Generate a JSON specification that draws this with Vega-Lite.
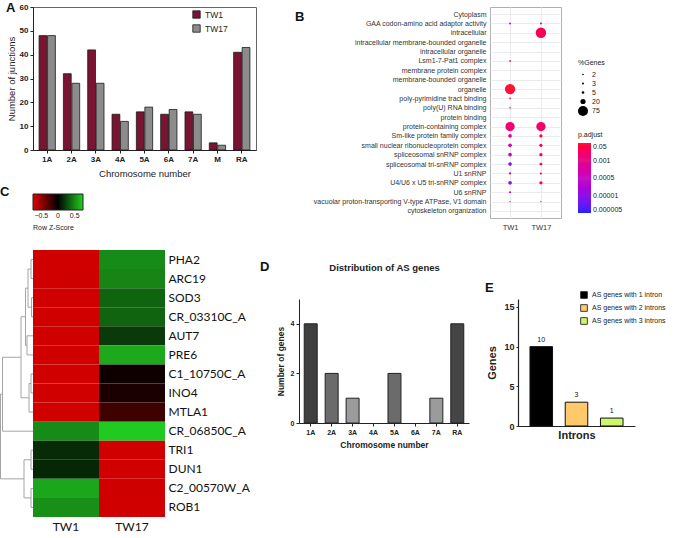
{
  "$schema": "https://vega.github.io/schema/vega-lite/v6.json",
  "padding": {"left": 0, "top": 1, "right": 2, "bottom": 0},
  "background": "white",
  "config": {
    "font": "Liberation Sans",
    "view": {"stroke": null},
    "axis": {"grid": false, "domainColor": "#222", "tickColor": "#222", "labelColor": "#222", "titleColor": "#222"},
    "title": {"fontSize": 13, "fontWeight": "bold", "anchor": "start", "frame": "bounds", "color": "#111"},
    "legend": {"labelColor": "#222", "titleColor": "#222"}
  },
  "datasets": {
    "junctions": [
      {"chromosome": "1A", "sample": "TW1", "junctions": 48}, {"chromosome": "1A", "sample": "TW17", "junctions": 48},
      {"chromosome": "2A", "sample": "TW1", "junctions": 32}, {"chromosome": "2A", "sample": "TW17", "junctions": 28},
      {"chromosome": "3A", "sample": "TW1", "junctions": 42}, {"chromosome": "3A", "sample": "TW17", "junctions": 28},
      {"chromosome": "4A", "sample": "TW1", "junctions": 15}, {"chromosome": "4A", "sample": "TW17", "junctions": 12},
      {"chromosome": "5A", "sample": "TW1", "junctions": 16}, {"chromosome": "5A", "sample": "TW17", "junctions": 18},
      {"chromosome": "6A", "sample": "TW1", "junctions": 15}, {"chromosome": "6A", "sample": "TW17", "junctions": 17},
      {"chromosome": "7A", "sample": "TW1", "junctions": 16}, {"chromosome": "7A", "sample": "TW17", "junctions": 15},
      {"chromosome": "M", "sample": "TW1", "junctions": 3}, {"chromosome": "M", "sample": "TW17", "junctions": 2},
      {"chromosome": "RA", "sample": "TW1", "junctions": 41}, {"chromosome": "RA", "sample": "TW17", "junctions": 43}
    ],
    "go": [
      {"term": "GAA codon-amino acid adaptor activity", "sample": "TW1", "genes_pct": 3, "p_adjust_level": 1.8},
      {"term": "GAA codon-amino acid adaptor activity", "sample": "TW17", "genes_pct": 3, "p_adjust_level": 1.7},
      {"term": "intracellular", "sample": "TW17", "genes_pct": 82, "p_adjust_level": 3.6},
      {"term": "Lsm1-7-Pat1 complex", "sample": "TW1", "genes_pct": 2.5, "p_adjust_level": 3.5},
      {"term": "organelle", "sample": "TW1", "genes_pct": 80, "p_adjust_level": 3.95},
      {"term": "poly-pyrimidine tract binding", "sample": "TW1", "genes_pct": 2, "p_adjust_level": 3.4},
      {"term": "poly(U) RNA binding", "sample": "TW1", "genes_pct": 2, "p_adjust_level": 3.0},
      {"term": "protein-containing complex", "sample": "TW1", "genes_pct": 65, "p_adjust_level": 3.3},
      {"term": "protein-containing complex", "sample": "TW17", "genes_pct": 65, "p_adjust_level": 3.4},
      {"term": "Sm-like protein family complex", "sample": "TW1", "genes_pct": 10, "p_adjust_level": 2.7},
      {"term": "Sm-like protein family complex", "sample": "TW17", "genes_pct": 8, "p_adjust_level": 3.5},
      {"term": "small nuclear ribonucleoprotein complex", "sample": "TW1", "genes_pct": 10, "p_adjust_level": 2.5},
      {"term": "small nuclear ribonucleoprotein complex", "sample": "TW17", "genes_pct": 8, "p_adjust_level": 3.5},
      {"term": "spliceosomal snRNP complex", "sample": "TW1", "genes_pct": 10, "p_adjust_level": 2.3},
      {"term": "spliceosomal snRNP complex", "sample": "TW17", "genes_pct": 8, "p_adjust_level": 3.5},
      {"term": "spliceosomal tri-snRNP complex", "sample": "TW1", "genes_pct": 10, "p_adjust_level": 0.9},
      {"term": "spliceosomal tri-snRNP complex", "sample": "TW17", "genes_pct": 6, "p_adjust_level": 3.4},
      {"term": "U1 snRNP", "sample": "TW1", "genes_pct": 4, "p_adjust_level": 3.4},
      {"term": "U1 snRNP", "sample": "TW17", "genes_pct": 3.5, "p_adjust_level": 3.5},
      {"term": "U4/U6 x U5 tri-snRNP complex", "sample": "TW1", "genes_pct": 10, "p_adjust_level": 1.0},
      {"term": "U4/U6 x U5 tri-snRNP complex", "sample": "TW17", "genes_pct": 8, "p_adjust_level": 3.4},
      {"term": "U6 snRNP", "sample": "TW1", "genes_pct": 3.5, "p_adjust_level": 1.5},
      {"term": "vacuolar proton-transporting V-type ATPase, V1 domain", "sample": "TW1", "genes_pct": 1.5, "p_adjust_level": 3.7},
      {"term": "vacuolar proton-transporting V-type ATPase, V1 domain", "sample": "TW17", "genes_pct": 1.5, "p_adjust_level": 3.7}
    ],
    "heat": [
      {"gene": "PHA2", "sample": "TW1", "z": -0.7}, {"gene": "PHA2", "sample": "TW17", "z": 0.5},
      {"gene": "ARC19", "sample": "TW1", "z": -0.7}, {"gene": "ARC19", "sample": "TW17", "z": 0.48},
      {"gene": "SOD3", "sample": "TW1", "z": -0.7}, {"gene": "SOD3", "sample": "TW17", "z": 0.36},
      {"gene": "CR_03310C_A", "sample": "TW1", "z": -0.7}, {"gene": "CR_03310C_A", "sample": "TW17", "z": 0.36},
      {"gene": "AUT7", "sample": "TW1", "z": -0.7}, {"gene": "AUT7", "sample": "TW17", "z": 0.21},
      {"gene": "PRE6", "sample": "TW1", "z": -0.7}, {"gene": "PRE6", "sample": "TW17", "z": 0.61},
      {"gene": "C1_10750C_A", "sample": "TW1", "z": -0.7}, {"gene": "C1_10750C_A", "sample": "TW17", "z": -0.05},
      {"gene": "INO4", "sample": "TW1", "z": -0.7}, {"gene": "INO4", "sample": "TW17", "z": -0.09},
      {"gene": "MTLA1", "sample": "TW1", "z": -0.7}, {"gene": "MTLA1", "sample": "TW17", "z": -0.21},
      {"gene": "CR_06850C_A", "sample": "TW1", "z": 0.5}, {"gene": "CR_06850C_A", "sample": "TW17", "z": 0.73},
      {"gene": "TRI1", "sample": "TW1", "z": 0.15}, {"gene": "TRI1", "sample": "TW17", "z": -0.7},
      {"gene": "DUN1", "sample": "TW1", "z": 0.14}, {"gene": "DUN1", "sample": "TW17", "z": -0.7},
      {"gene": "C2_00570W_A", "sample": "TW1", "z": 0.6}, {"gene": "C2_00570W_A", "sample": "TW17", "z": -0.7},
      {"gene": "ROB1", "sample": "TW1", "z": 0.52}, {"gene": "ROB1", "sample": "TW17", "z": -0.7}
    ],
    "dendro": [
      {"h1": 0, "h2": 2, "r1": 0, "r2": 0}, {"h1": 0, "h2": 2, "r1": 1, "r2": 1}, {"h1": 2, "h2": 2, "r1": 0, "r2": 1},
      {"h1": 0, "h2": 1.5, "r1": 2, "r2": 2}, {"h1": 0, "h2": 1.5, "r1": 3, "r2": 3}, {"h1": 1.5, "h2": 1.5, "r1": 2, "r2": 3},
      {"h1": 2, "h2": 5, "r1": 0.5, "r2": 0.5}, {"h1": 1.5, "h2": 5, "r1": 2.5, "r2": 2.5}, {"h1": 5, "h2": 5, "r1": 0.5, "r2": 2.5},
      {"h1": 0, "h2": 6, "r1": 4, "r2": 4}, {"h1": 0, "h2": 6, "r1": 5, "r2": 5}, {"h1": 6, "h2": 6, "r1": 4, "r2": 5},
      {"h1": 5, "h2": 7.5, "r1": 1.5, "r2": 1.5}, {"h1": 6, "h2": 7.5, "r1": 4.5, "r2": 4.5}, {"h1": 7.5, "h2": 7.5, "r1": 1.5, "r2": 4.5},
      {"h1": 0, "h2": 2, "r1": 6, "r2": 6}, {"h1": 0, "h2": 2, "r1": 7, "r2": 7}, {"h1": 2, "h2": 2, "r1": 6, "r2": 7},
      {"h1": 2, "h2": 4, "r1": 6.5, "r2": 6.5}, {"h1": 0, "h2": 4, "r1": 8, "r2": 8}, {"h1": 4, "h2": 4, "r1": 6.5, "r2": 8},
      {"h1": 7.5, "h2": 12, "r1": 3, "r2": 3}, {"h1": 4, "h2": 12, "r1": 7.25, "r2": 7.25}, {"h1": 12, "h2": 12, "r1": 3, "r2": 7.25},
      {"h1": 12, "h2": 30.5, "r1": 5.125, "r2": 5.125}, {"h1": 0, "h2": 30.5, "r1": 9, "r2": 9}, {"h1": 30.5, "h2": 30.5, "r1": 5.125, "r2": 9},
      {"h1": 0, "h2": 2, "r1": 10, "r2": 10}, {"h1": 0, "h2": 2, "r1": 11, "r2": 11}, {"h1": 2, "h2": 2, "r1": 10, "r2": 11},
      {"h1": 0, "h2": 2, "r1": 12, "r2": 12}, {"h1": 0, "h2": 2, "r1": 13, "r2": 13}, {"h1": 2, "h2": 2, "r1": 12, "r2": 13},
      {"h1": 2, "h2": 9, "r1": 10.5, "r2": 10.5}, {"h1": 2, "h2": 9, "r1": 12.5, "r2": 12.5}, {"h1": 9, "h2": 9, "r1": 10.5, "r2": 12.5},
      {"h1": 30.5, "h2": 32.5, "r1": 7.0625, "r2": 7.0625}, {"h1": 9, "h2": 32.5, "r1": 11.5, "r2": 11.5}, {"h1": 32.5, "h2": 32.5, "r1": 7.0625, "r2": 11.5}
    ],
    "asgenes": [
      {"chromosome": "1A", "genes": 4}, {"chromosome": "2A", "genes": 2}, {"chromosome": "3A", "genes": 1},
      {"chromosome": "4A", "genes": 0}, {"chromosome": "5A", "genes": 2}, {"chromosome": "6A", "genes": 0},
      {"chromosome": "7A", "genes": 1}, {"chromosome": "RA", "genes": 4}
    ],
    "introns": [
      {"group": "AS genes with 1 intron", "genes": 10},
      {"group": "AS genes with 2 introns", "genes": 3},
      {"group": "AS genes with 3 introns", "genes": 1}
    ]
  },
  "resolve": {"scale": {"color": "independent", "size": "independent"}, "legend": {"color": "independent", "size": "independent"}},
  "spacing": 2,
  "hconcat": [
    {
      "spacing": 8,
      "resolve": {"scale": {"color": "independent", "size": "independent"}, "legend": {"color": "independent", "size": "independent"}},
      "vconcat": [
        {
          "title": {"text": "A", "offset": -12},
          "width": 223, "height": 143,
          "data": {"name": "junctions"},
          "view": {"stroke": "#666", "strokeWidth": 1},
          "mark": {"type": "bar", "stroke": "#1a1a1a", "strokeWidth": 0.8},
          "encoding": {
            "x": {"field": "chromosome", "type": "nominal", "sort": ["1A","2A","3A","4A","5A","6A","7A","M","RA"],
              "scale": {"paddingInner": 0.33, "paddingOuter": 0.25},
              "axis": {"title": "Chromosome number", "labelAngle": 0, "labelFontSize": 8, "labelFontWeight": "bold", "tickSize": 3, "titleFontSize": 9.5, "titleFontWeight": "normal", "titlePadding": 5}},
            "xOffset": {"field": "sample", "type": "nominal", "sort": ["TW1","TW17"], "scale": {"paddingInner": 0.08}},
            "y": {"field": "junctions", "type": "quantitative", "scale": {"domain": [0, 60]},
              "axis": {"title": "Number of junctions", "values": [0,10,20,30,40,50,60], "labelFontSize": 8, "labelFontWeight": "bold", "tickSize": 3, "titleFontSize": 9.5, "titleFontWeight": "normal", "titlePadding": 3}},
            "color": {"field": "sample", "type": "nominal", "scale": {"domain": ["TW1","TW17"], "range": ["#7a1433","#8c8c8c"]},
              "legend": {"orient": "none", "legendX": 159, "legendY": 3, "title": null, "symbolType": "square", "symbolSize": 55, "symbolStrokeColor": "#1a1a1a", "symbolStrokeWidth": 0.8, "labelFontSize": 8.5, "rowPadding": 3}}
          }
        },
        {
          "title": {"text": "C", "offset": -5},
          "width": 132, "height": 267,
          "resolve": {"scale": {"x": "independent", "y": "independent"}, "axis": {"x": "independent", "y": "independent"}},
          "layer": [
            {
              "data": {"name": "heat"},
              "mark": {"type": "rect"},
              "encoding": {
                "x": {"field": "sample", "type": "nominal", "sort": ["TW1","TW17"],
                  "axis": {"title": null, "labelAngle": 0, "ticks": false, "domain": false, "labelFontSize": 12, "labelFont": "Lato", "labelPadding": 4, "labelColor": "#111"}},
                "y": {"field": "gene", "type": "nominal", "sort": ["PHA2","ARC19","SOD3","CR_03310C_A","AUT7","PRE6","C1_10750C_A","INO4","MTLA1","CR_06850C_A","TRI1","DUN1","C2_00570W_A","ROB1"],
                  "axis": {"orient": "right", "title": null, "ticks": false, "domain": false, "labelFontSize": 12, "labelFont": "Lato", "labelPadding": 3, "labelColor": "#111"}},
                "color": {"field": "z", "type": "quantitative", "scale": {"domain": [-0.75, 0, 0.75], "range": ["#e00000", "#000000", "#22d022"], "interpolate": "rgb"},
                  "legend": {"orient": "top", "direction": "horizontal", "gradientLength": 50, "gradientThickness": 16, "values": [-0.5, 0, 0.5], "labelExpr": "datum.value == 0 ? '0' : format(datum.value, '.1f')", "title": "Row Z-Score", "titleOrient": "bottom", "titleFontSize": 7, "titleFontWeight": "normal", "labelFontSize": 7, "gradientStrokeColor": "#222", "gradientStrokeWidth": 1, "offset": 19}}
              }
            },
            {
              "data": {"name": "dendro"},
              "mark": {"type": "rule", "color": "#9a9a9a", "strokeWidth": 0.9},
              "encoding": {
                "x": {"field": "h1", "type": "quantitative", "scale": {"domain": [-132, 0], "reverse": true, "zero": false, "nice": false}, "axis": null},
                "x2": {"field": "h2"},
                "y": {"field": "r1", "type": "quantitative", "scale": {"domain": [-0.5, 13.5], "reverse": true, "zero": false, "nice": false}, "axis": null},
                "y2": {"field": "r2"}
              }
            }
          ]
        }
      ]
    },
    {
      "spacing": 30,
      "resolve": {"scale": {"color": "independent", "size": "independent"}, "legend": {"color": "independent", "size": "independent"}},
      "vconcat": [
        {
          "spacing": 34,
          "resolve": {"scale": {"color": "independent", "size": "independent"}, "legend": {"color": "independent", "size": "independent"}},
          "hconcat": [
            {"width": 1, "height": 1, "data": {"values": []}, "mark": {"type": "point", "opacity": 0}},
            {
              "title": {"text": "B", "dx": -18, "offset": -17},
              "width": 71, "height": 211,
              "data": {"name": "go"},
              "view": {"stroke": "#b0b0b0"},
              "mark": {"type": "circle", "opacity": 1},
              "encoding": {
                "x": {"field": "sample", "type": "nominal", "sort": ["TW1","TW17"], "scale": {"padding": 0.65},
                  "axis": {"title": null, "labelAngle": 0, "ticks": false, "domain": false, "grid": true, "gridColor": "#ebebeb", "labelFontSize": 7.5, "labelPadding": 5, "labelColor": "#333"}},
                "y": {"field": "term", "type": "nominal",
                  "scale": {"domain": ["Cytoplasm","GAA codon-amino acid adaptor activity","intracellular","intracellular membrane-bounded organelle","intracellular organelle","Lsm1-7-Pat1 complex","membrane protein complex","membrane-bounded organelle","organelle","poly-pyrimidine tract binding","poly(U) RNA binding","protein binding","protein-containing complex","Sm-like protein family complex","small nuclear ribonucleoprotein complex","spliceosomal snRNP complex","spliceosomal tri-snRNP complex","U1 snRNP","U4/U6 x U5 tri-snRNP complex","U6 snRNP","vacuolar proton-transporting V-type ATPase, V1 domain","cytoskeleton organization"], "padding": 0.75},
                  "axis": {"title": null, "ticks": false, "domain": false, "grid": true, "gridColor": "#ebebeb", "labelFontSize": 7, "labelPadding": 4, "labelColor": "#333", "labelLimit": 300}},
                "size": {"field": "genes_pct", "type": "quantitative", "scale": {"domain": [0, 75], "range": [0, 100]},
                  "legend": {"title": "%Genes", "orient": "none", "legendX": 88, "legendY": 52, "values": [2,3,5,20,75], "symbolFillColor": "#000", "symbolStrokeWidth": 0, "symbolType": "circle", "labelFontSize": 7, "titleFontSize": 7, "titleFontWeight": "normal", "rowPadding": 1}},
                "color": {"field": "p_adjust_level", "type": "quantitative", "scale": {"domain": [0,1,2,3,4], "range": ["#2020ff","#8a12e8","#c412c4","#e3108a","#ff1a2e"]},
                  "legend": {"title": "p.adjust", "orient": "none", "legendX": 88, "legendY": 124, "direction": "vertical", "gradientLength": 70, "gradientThickness": 13, "values": [0,1,2,3,4], "labelExpr": "['0.000005','0.00001','0.0005','0.001','0.05'][datum.value]", "labelFontSize": 7, "titleFontSize": 7, "titleFontWeight": "normal"}}
              }
            }
          ]
        },
        {
          "spacing": 0,
          "resolve": {"scale": {"color": "independent"}, "legend": {"color": "independent"}},
          "hconcat": [
            {"width": 1, "height": 1, "data": {"values": []}, "mark": {"type": "point", "opacity": 0}},
            {
              "spacing": 15,
              "resolve": {"scale": {"color": "independent"}, "legend": {"color": "independent"}},
              "hconcat": [
                {
                  "title": {"text": "D", "dx": -16, "offset": -12},
                  "width": 170, "height": 124,
                  "data": {"name": "asgenes"},
                  "layer": [
                    {
                      "mark": {"type": "bar", "stroke": "#222", "strokeWidth": 1},
                      "encoding": {
                        "x": {"field": "chromosome", "type": "nominal", "sort": ["1A","2A","3A","4A","5A","6A","7A","RA"], "scale": {"paddingInner": 0.38, "paddingOuter": 0.25},
                          "axis": {"title": "Chromosome number", "labelAngle": 0, "labelFontSize": 7, "labelFontWeight": "bold", "tickSize": 3, "titleFontSize": 8.5, "titleFontWeight": "bold", "titlePadding": 5}},
                        "y": {"field": "genes", "type": "quantitative", "scale": {"domain": [0, 5]},
                          "axis": {"title": "Number of genes", "values": [0,1,2,3,4,5], "labelFontSize": 7, "labelFontWeight": "bold", "tickSize": 3, "titleFontSize": 8.5, "titleFontWeight": "bold", "titlePadding": 5}},
                        "color": {"field": "chromosome", "type": "nominal", "scale": {"domain": ["1A","2A","3A","4A","5A","6A","7A","RA"], "range": ["#3f3f3f","#6b6b6b","#9b9b9b","#6b6b6b","#6b6b6b","#6b6b6b","#9b9b9b","#454545"]}, "legend": null},
                        "strokeOpacity": {"condition": {"test": "datum.genes == 0", "value": 0}, "value": 1}
                      }
                    },
                    {
                      "mark": {"type": "bar", "opacity": 0},
                      "encoding": {
                        "x": {"field": "chromosome", "type": "nominal", "sort": ["1A","2A","3A","4A","5A","6A","7A","RA"],
                          "axis": {"orient": "top", "title": "Distribution of AS genes", "labels": false, "ticks": false, "domain": false, "titleFontSize": 9.5, "titleFontWeight": "bold", "titlePadding": 27}},
                        "y": {"field": "genes", "type": "quantitative"}
                      }
                    }
                  ],
                  "resolve": {"axis": {"x": "independent"}}
                },
                {
                  "title": {"text": "E", "dx": -2, "offset": -4},
                  "width": 117, "height": 127,
                  "data": {"name": "introns"},
                  "layer": [
                    {
                      "mark": {"type": "bar", "stroke": "#111", "strokeWidth": 1},
                      "encoding": {
                        "x": {"field": "group", "type": "nominal", "sort": ["AS genes with 1 intron","AS genes with 2 introns","AS genes with 3 introns"], "scale": {"paddingInner": 0.36, "paddingOuter": 0.34},
                          "axis": {"title": "Introns", "labels": false, "ticks": false, "titleFontSize": 11, "titleFontWeight": "bold", "titlePadding": 3, "domainWidth": 1.2}},
                        "y": {"field": "genes", "type": "quantitative", "scale": {"domain": [0, 15]},
                          "axis": {"title": "Genes", "values": [0,5,10,15], "labelFontSize": 9, "labelFontWeight": "bold", "tickSize": 2, "titleFontSize": 11, "titleFontWeight": "bold", "titlePadding": 6, "domainWidth": 1.2}},
                        "color": {"field": "group", "type": "nominal", "scale": {"domain": ["AS genes with 1 intron","AS genes with 2 introns","AS genes with 3 introns"], "range": ["#000000","#fdc96b","#cdf56e"]},
                          "legend": {"title": null, "orient": "none", "legendX": 62, "legendY": -8, "symbolType": "square", "symbolSize": 45, "symbolStrokeColor": "#111", "symbolStrokeWidth": 0.8, "labelFontSize": 7, "rowPadding": 3}}
                      }
                    },
                    {
                      "mark": {"type": "text", "baseline": "bottom", "dy": -4, "fontSize": 7, "color": "#111"},
                      "encoding": {
                        "x": {"field": "group", "type": "nominal", "sort": ["AS genes with 1 intron","AS genes with 2 introns","AS genes with 3 introns"]},
                        "y": {"field": "genes", "type": "quantitative"},
                        "text": {"field": "genes", "type": "quantitative"}
                      }
                    }
                  ]
                }
              ]
            }
          ]
        }
      ]
    }
  ]
}
